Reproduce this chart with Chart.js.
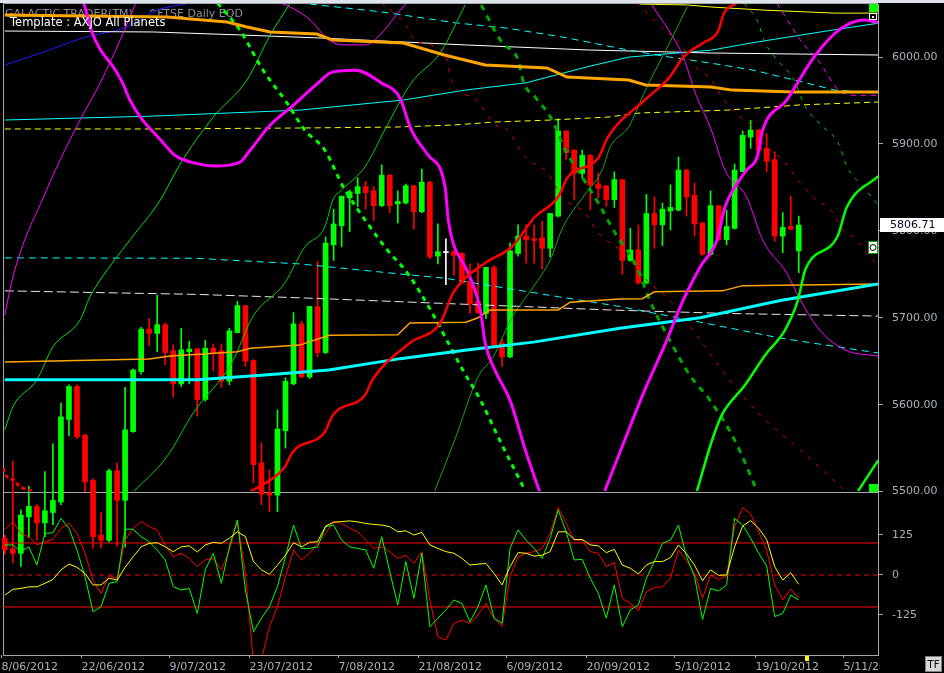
<!DOCTYPE html>
<html>
<head>
<meta charset="utf-8">
<title>^FTSE Daily EOD - AXJO All Planets</title>
<script src="https://cdn.jsdelivr.net/npm/chart.js@4.4.1/dist/chart.umd.min.js"></script>
<style>
  html, body { margin: 0; padding: 0; background: #000; overflow: hidden; }
  canvas { display: block; }
</style>
</head>
<body>
<canvas id="chart" width="944" height="673"></canvas>
<script>
// Daily FTSE candles, index 0 = 8/06/2012 (trading days only)
const opens = [5446, 5434, 5429, 5471, 5483, 5464, 5476, 5488, 5583, 5621,
  5565, 5513, 5450, 5444, 5524, 5490, 5569, 5638, 5687, 5682,
  5692, 5662, 5624, 5661, 5664, 5606, 5665, 5662, 5627, 5683,
  5714, 5651, 5533, 5499, 5496, 5570, 5624, 5693, 5632, 5713,
  5660, 5784, 5806, 5838, 5843, 5851, 5846, 5829, 5864, 5831,
  5832, 5852, 5822, 5856, 5771, 5775, 5776, 5774, 5742, 5719,
  5705, 5758, 5671, 5655, 5774, 5794, 5791, 5792, 5780, 5817,
  5915, 5893, 5866, 5887, 5854, 5852, 5836, 5859, 5766, 5778,
  5740, 5820, 5807, 5823, 5824, 5870, 5841, 5809, 5773, 5829,
  5790, 5803, 5868, 5908, 5916, 5895, 5882, 5794, 5805, 5777];
const highs = [5450, 5535, 5479, 5506, 5485, 5523, 5555, 5602, 5623, 5623,
  5566, 5515, 5476, 5526, 5533, 5620, 5641, 5689, 5699, 5726,
  5694, 5669, 5688, 5673, 5665, 5674, 5670, 5670, 5688, 5719,
  5714, 5652, 5556, 5525, 5594, 5631, 5706, 5696, 5713, 5765,
  5793, 5825, 5840, 5847, 5861, 5857, 5851, 5876, 5865, 5846,
  5854, 5852, 5871, 5857, 5808, 5791, 5778, 5775, 5762, 5763,
  5758, 5760, 5676, 5786, 5807, 5807, 5807, 5811, 5820, 5929,
  5915, 5893, 5893, 5888, 5867, 5852, 5868, 5859, 5803, 5807,
  5842, 5839, 5832, 5853, 5885, 5871, 5855, 5810, 5846, 5829,
  5824, 5877, 5915, 5927, 5917, 5912, 5891, 5821, 5840, 5817];
const lows = [5428, 5418, 5414, 5447, 5444, 5448, 5462, 5485, 5564, 5561,
  5500, 5435, 5435, 5442, 5437, 5436, 5568, 5635, 5668, 5661,
  5646, 5609, 5621, 5624, 5587, 5604, 5639, 5620, 5623, 5683,
  5644, 5510, 5485, 5477, 5477, 5550, 5623, 5631, 5630, 5655,
  5659, 5766, 5782, 5799, 5828, 5825, 5812, 5828, 5821, 5809,
  5831, 5802, 5821, 5768, 5762, 5738, 5749, 5739, 5705, 5705,
  5699, 5665, 5644, 5654, 5771, 5763, 5763, 5756, 5770, 5816,
  5882, 5836, 5861, 5824, 5838, 5828, 5827, 5750, 5765, 5739,
  5739, 5780, 5783, 5801, 5823, 5817, 5794, 5772, 5772, 5789,
  5784, 5802, 5868, 5895, 5887, 5868, 5788, 5775, 5801, 5752];
const closes = [5433, 5429, 5473, 5483, 5464, 5478, 5490, 5586, 5621, 5563,
  5511, 5448, 5444, 5524, 5490, 5571, 5640, 5687, 5682, 5692,
  5660, 5624, 5663, 5664, 5606, 5665, 5659, 5627, 5685, 5714,
  5650, 5531, 5497, 5496, 5572, 5627, 5693, 5632, 5713, 5660,
  5786, 5808, 5840, 5845, 5851, 5844, 5829, 5864, 5829, 5834,
  5852, 5822, 5856, 5770, 5776, 5775, 5772, 5740, 5716, 5706,
  5758, 5669, 5655, 5777, 5794, 5790, 5789, 5780, 5820, 5915,
  5890, 5866, 5887, 5853, 5849, 5836, 5859, 5766, 5778, 5740,
  5820, 5807, 5825, 5827, 5870, 5839, 5808, 5773, 5829, 5790,
  5805, 5870, 5910, 5916, 5893, 5880, 5794, 5804, 5802, 5806.71];
const lastPrice = 5806.71;

// oscillator panel, one value per candle
const oscRed = [142, 167, 130, 119, 94, 104, 111, 146, 161, 130,
  68, -16, -57, -2, -10, 109, 146, 167, 151, 140,
  94, 57, 68, 52, 26, 47, 52, 16, 78, 167,
  5, -270, -265, -162, -99, -5, 78, 47, 68, 99,
  130, 167, 161, 146, 135, 109, 83, 88, 73, 52,
  62, 36, 73, -78, -193, -203, -151, -141, -151, -125,
  -89, -135, -161, -5, 57, 68, 73, 83, 130, 211,
  161, 109, 109, 73, 68, 26, 39, -73, -89, -112,
  -52, -39, -37, -10, 78, 45, 5, -73, 0, -14,
  -3, 151, 211, 191, 135, 78, -31, -78, -44, -73];
const oscGreen = [94, 94, 73, 88, 31, 130, 132, 177, 146, 78,
  -5, -115, -99, -26, -21, 143, 143, 120, 104, 78,
  47, -36, -47, -42, -120, 16, 68, -26, 88, 172,
  -47, -177, -135, -99, -36, 57, 156, 83, 83, 88,
  151, 156, 109, 88, 83, 78, 21, 120, 10, -94,
  42, -73, 68, -162, -135, -109, -78, -89, -146, -99,
  -31, -135, -151, 83, 141, 109, 83, 52, 115, 203,
  135, 47, 49, -10, -57, -135, -31, -162, -109, -94,
  -10, 42, 99, 109, 156, 57, -5, -139, -42, -50,
  -31, 177, 156, 115, 68, 28, -130, -120, -63, -78];
const oscYellow = [-63, -45, -42, -37, -37, -26, -14, 16, 34, 24,
  5, -31, -31, -10, -16, 24, 57, 88, 99, 101,
  88, 73, 88, 91, 72, 94, 102, 99, 115, 135,
  120, 42, 16, 2, 31, 62, 101, 88, 102, 104,
  153, 165, 167, 169, 166, 161, 158, 156, 151, 135,
  138, 125, 133, 94, 83, 73, 68, 52, 31, 34,
  36, 5, -31, 26, 70, 68, 59, 62, 73, 135,
  135, 111, 111, 94, 91, 70, 80, 31, 21, 3,
  31, 42, 42, 54, 94, 66, 31, -18, 16, -1,
  0, 88, 153, 170, 146, 111, 26, -16, 7, -29];
const oscLevels = [100, 0, -100];

// planetary lines, [trading-day index, price]
const cyanThick = [[0, 5628.6], [24, 5628.6], [32, 5634], [40.4, 5640], [49.3, 5653], [57.6, 5663], [65.9, 5672], [76.7, 5688], [86.7, 5700], [96.7, 5720], [108.9, 5739]];
const orangeThin = [[0, 5649], [18, 5652.6], [20.6, 5656], [24.3, 5658], [29, 5661], [30.6, 5665], [36.8, 5668.6], [38.5, 5674], [40.5, 5680], [49, 5680.5], [50.5, 5694], [57.5, 5695], [59, 5700], [60.5, 5709], [69, 5709], [70.5, 5718], [76.7, 5721.6], [79.5, 5722], [81, 5730], [89.5, 5731], [92, 5737], [108.9, 5739]];
const whiteDashed = [[0, 5731], [23.7, 5727], [36.8, 5723], [49.3, 5718.5], [75.5, 5709], [90, 5705], [108.9, 5702]];
const cyanDashedLow = [[0, 5769], [23.7, 5768.5], [36.8, 5762], [49.3, 5750.4], [54.9, 5745.5], [69.2, 5724], [76.7, 5713], [86.7, 5695], [96.7, 5676.6], [108.9, 5659.5]];
const magentaThickA = [[9.75, 6065.7], [10.9, 6028], [11.9, 6008.7], [13.5, 5989], [14.7, 5970], [15.6, 5950.6], [16.9, 5931], [19.4, 5905], [21.2, 5887], [23.7, 5878], [26.2, 5874.7], [29.3, 5879], [30.6, 5893], [33.1, 5921.8], [35.6, 5941.5], [38.8, 5968], [40.9, 5983], [43.7, 5985], [47.0, 5970], [49.2, 5954], [50.7, 5916], [52.8, 5887], [54.9, 5850.6], [55.3, 5812.6], [55.9, 5786], [57.4, 5758.6], [58.3, 5740], [59.3, 5709], [59.9, 5671], [61.1, 5640], [63.0, 5605], [64.9, 5548], [66.7, 5499.5]];
const magentaThickB = [[74.8, 5500.7], [77.3, 5559.4], [79.8, 5617], [82.3, 5668.8], [84.6, 5720.5], [86.7, 5758.5], [88.8, 5789.5], [89.8, 5827.5], [90.8, 5847], [92.5, 5870], [93.8, 5885], [94.5, 5916], [97.5, 5950.6], [100.9, 6000], [104.0, 6031], [107.1, 6042.6], [108.9, 6040]];
const magentaThinA = [[0, 5703], [0.9, 5743], [2.5, 5790], [4.4, 5830], [6.9, 5881.8], [9.4, 5927.8], [11.9, 5970.4], [14.4, 6020], [16.5, 6065.7]];
const magentaThinB = [[33.1, 6065.7], [35.6, 6057.6], [38.1, 6042.6], [40.4, 6019.6], [42.4, 6014], [45.0, 6014], [47.0, 6027.7], [49.3, 6054], [50.5, 6065.7]];
const magentaThinC = [[80.7, 6060], [84.6, 6000], [86.1, 5958.6], [88.1, 5916], [89.8, 5870], [92.5, 5839], [94.5, 5789.5], [97.5, 5751.5], [99.2, 5720.5], [101.6, 5686], [104.8, 5663], [108.9, 5656]];
const magentaDashed = [[96.3, 6062], [99.2, 6019.6], [101.4, 5996.5], [104.0, 5962], [106.0, 5956], [108.9, 5956]];
const greenThinA = [[0, 5571], [1.0, 5597.5], [4.0, 5628.6], [6.0, 5666.5], [9.4, 5697.6], [10.6, 5724], [11.9, 5743.6], [15.6, 5789.6], [19.4, 5835.6], [21.8, 5876], [26.0, 5931], [30.2, 5973.7], [33.1, 6025.5], [35.6, 6062.3]];
const greenThinB = [[16.0, 5499.5], [20.2, 5540], [23.5, 5590.6], [28.3, 5648], [30.9, 5701], [34.9, 5740], [37.4, 5781.5], [39.9, 5804.5], [40.9, 5835.6], [42.0, 5847], [44.9, 5873.6], [47.5, 5918.4], [50.7, 5970.4], [54.3, 6005], [57.4, 6060]];
const greenThinC = [[53.6, 5500.7], [56.1, 5559.4], [59.0, 5632], [60.9, 5655], [63.2, 5699.8], [65.9, 5735.5], [68.0, 5766.6], [69.6, 5804.6], [72.3, 5841.5], [74.5, 5870.3], [75.5, 5896.8], [77.8, 5919.8], [79.9, 5962.4], [82.9, 6016.6], [85.1, 6058]];
const greenThick = [[86.3, 5500.7], [88.2, 5559.4], [89.4, 5588], [92.3, 5622.6], [94.8, 5657], [97.3, 5686], [98.9, 5720.5], [99.8, 5755], [103.8, 5793], [105.0, 5827.5], [108.9, 5863]];
const greenStub = [[106.4, 5500.7], [108.9, 5536]];
const greenDashedA = [[26.5, 6062.3], [29.3, 6031.2], [32.2, 5985], [35.2, 5947], [37.4, 5916], [39.9, 5893], [42.2, 5850.6], [45.2, 5809], [47.7, 5778], [50.2, 5751.5], [53.3, 5705.5], [55.3, 5671], [57.1, 5640], [59.3, 5605.5], [61.7, 5559.4], [64.9, 5500.7]];
const greenDashedB = [[59.4, 6060], [62.0, 6016.6], [64.0, 5997], [64.7, 5970.4], [66.1, 5954.3], [68.1, 5930], [69.9, 5893], [72.0, 5862], [74.0, 5832], [76.1, 5797.6], [78.8, 5758.5], [80.4, 5720.5], [82.9, 5674.4], [85.4, 5634], [87.9, 5605.5], [91.0, 5559.4], [93.8, 5500.7]];
const greenDashedC = [[92.2, 6062], [93.8, 6042.6], [94.8, 6016.6], [96.3, 5997], [98.4, 5974], [99.8, 5943], [102.0, 5920], [103.9, 5901.6], [105.0, 5874], [107.0, 5851], [108.9, 5830]];
const redThick = [[30.6, 5499.5], [34.9, 5528.3], [35.9, 5545.6], [39.9, 5568.6], [40.9, 5588], [44.9, 5611], [45.9, 5629.6], [50.5, 5671], [54.3, 5694], [55.9, 5728.6], [59.9, 5763], [63.2, 5781.5], [66.1, 5816], [69.0, 5839], [70.2, 5862], [74.0, 5884], [75.2, 5908], [79.8, 5950.6], [82.9, 5977], [84.6, 6000], [87.1, 6016.6], [88.9, 6029], [89.7, 6051], [91.2, 6062]];
const redDashedA = [[47.0, 6062.3], [50.2, 6034.6], [51.1, 6019.6], [54.8, 6004.6], [55.8, 5970.4], [58.9, 5950.6], [60.9, 5924], [62.7, 5916], [64.9, 5885], [67.7, 5866.6], [69.5, 5839], [72.3, 5820.6], [74.0, 5797.6], [77.1, 5774.6], [80.4, 5740], [82.9, 5720.5], [86.7, 5674.4], [90.4, 5628.4], [94.2, 5588], [99.2, 5548], [104.8, 5500.7]];
const redDashedB = [[78.8, 6062.3], [81.9, 6034.6], [84.1, 6016.6], [86.1, 5989], [88.1, 5974], [89.7, 5950.6], [91.7, 5931], [93.3, 5919.5], [94.5, 5901], [97.0, 5881.6], [99.2, 5855], [100.8, 5839], [103.3, 5820.6], [104.5, 5801], [105.8, 5793], [107.9, 5770], [108.9, 5760.7]];
const redDotted = [[-0.2, 5527], [0.1, 5519], [1.3, 5512], [1.7, 5507], [2.5, 5503], [3.5, 5500]];
const yellowDashed = [[0, 5917.3], [18.1, 5917.3], [36.8, 5918.4], [48.7, 5919.5], [55.8, 5921.8], [61.1, 5925.3], [68.2, 5927.6], [75.2, 5931], [79.2, 5935.7], [90.1, 5939], [99.2, 5945], [108.9, 5948.3]];
const yellowSolid = [[79.2, 6061], [85.1, 6060], [88.1, 6057.6], [94.8, 6054], [103.5, 6050.6], [108.9, 6050.6]];
const cyanThin = [[0, 5927.6], [18.1, 5932], [36.8, 5939], [49.7, 5950.6], [57.4, 5962], [65.0, 5970.4], [72.7, 5989], [77.8, 6000], [88.1, 6008], [93.3, 6016.6], [103.5, 6031.5], [108.9, 6039]];
const cyanDashedHigh = [[30.6, 6065.7], [36.8, 6062.3], [47.0, 6052], [56.3, 6039.3], [62.5, 6033.5], [69.6, 6023], [77.8, 6008], [82.9, 6000], [88.1, 5993], [93.3, 5985], [98.4, 5973.7], [103.5, 5962], [108.9, 5958.6]];
const orangeThick = [[0, 6048.4], [20.2, 6046], [27.7, 6040.4], [30.2, 6034.6], [33.1, 6028.8], [38.9, 6026.5], [40.9, 6019.6], [49.7, 6016.2], [54.8, 6002.4], [59.9, 5990.9], [67.6, 5987.5], [70.1, 5977], [77.8, 5973.7], [79.9, 5968], [88.1, 5965.6], [90.7, 5962], [98.4, 5959.8], [108.9, 5959.8]];
const whiteSolid = [[0, 6030], [18.5, 6028.9], [29.3, 6025.5], [39.3, 6022], [57.4, 6014], [72.7, 6008.2], [88.1, 6004.7], [108.9, 6002.4]];
const blueThin = [[0, 5990.9], [4.8, 6005.8], [9.75, 6022], [15.2, 6034.6], [19.0, 6054], [23.1, 6062]];

// axes
const priceTicks = [5500, 5600, 5700, 5800, 5900, 6000];
const oscTicks = [-125, 0, 125];
const xTickDays = [0, 10, 21, 31, 42, 52, 63, 73, 84, 94, 105];
const xTickLabels = ['8/06/2012', '22/06/2012', '9/07/2012', '23/07/2012', '7/08/2012', '21/08/2012',
  '6/09/2012', '20/09/2012', '5/10/2012', '19/10/2012', '5/11/2012'];
const todayIndex = 100;

const upColor = '#00ff00';
const downColor = '#ff0000';
const dojiColor = '#ffffff';
const axisTextColor = '#a9b1b9';
const frameColor = '#a8a8a8';
const axisFont = '11px "DejaVu Sans"';

const candleColors = closes.map((c, i) => c > opens[i] ? upColor : (c < opens[i] ? downColor : dojiColor));

function planetLine(points, color, width, dash, smooth) {
  return {
    type: 'line',
    data: points.map(p => ({ x: p[0], y: p[1] })),
    parsing: false,
    borderColor: color,
    borderWidth: width,
    borderDash: dash || [],
    pointRadius: 0,
    cubicInterpolationMode: smooth === false ? 'default' : 'monotone',
    tension: 0,
    yAxisID: 'y',
    panel: true,
    order: 2,
  };
}

function oscLine(values, color) {
  return {
    type: 'line',
    data: values.map((v, i) => ({ x: i, y: v })),
    parsing: false,
    borderColor: color,
    borderWidth: 1,
    pointRadius: 0,
    tension: 0,
    yAxisID: 'osc',
    panel: true,
    order: 1,
  };
}

const levelLines = oscLevels.map(v => ({
  type: 'line',
  data: [{ x: -0.6, y: v }, { x: 108.9, y: v }],
  parsing: false,
  borderColor: '#ff0000',
  borderWidth: 1,
  borderDash: v === 0 ? [5, 4] : [],
  pointRadius: 0,
  yAxisID: 'osc',
  panel: true,
  order: 3,
}));

const datasets = [
  oscLine(oscYellow, '#ffff00'),
  oscLine(oscGreen, '#00ff00'),
  oscLine(oscRed, '#ff0000'),
  ...levelLines,
  planetLine(redThick, '#ff0000', 2.5),
  planetLine(magentaThickA, '#ff00ff', 3),
  planetLine(magentaThickB, '#ff00ff', 3),
  planetLine(greenThick, '#00ff00', 2.5),
  planetLine(greenStub, '#00ff00', 2.5),
  planetLine(cyanThick, '#00ffff', 3, null, false),
  planetLine(orangeThick, '#ffa500', 3, null, false),
  planetLine(orangeThin, '#ffa500', 1.5, null, false),
  planetLine(greenDashedA, '#00ff00', 3, [5, 5]),
  planetLine(greenDashedB, '#00a800', 3, [6, 6]),
  planetLine(greenDashedC, '#00c800', 1, [4, 6]),
  planetLine(greenThinA, '#00e000', 1),
  planetLine(greenThinB, '#00d000', 1),
  planetLine(greenThinC, '#1aa51a', 1),
  planetLine(magentaThinA, '#ff00ff', 1),
  planetLine(magentaThinB, '#ff00ff', 1),
  planetLine(magentaThinC, '#ff00ff', 1),
  planetLine(magentaDashed, '#ff00ff', 1, [5, 5]),
  planetLine(redDashedA, '#e00000', 1, [4, 7]),
  planetLine(redDashedB, '#e00000', 1, [4, 7]),
  planetLine(redDotted, '#ff0000', 3, [4, 3]),
  planetLine(whiteDashed, '#e8e8e8', 1, [9, 4], false),
  planetLine(cyanDashedLow, '#00ffff', 1, [7, 5], false),
  planetLine(cyanDashedHigh, '#00ffff', 1, [7, 5], false),
  planetLine(yellowDashed, '#ffff00', 1, [6, 4], false),
  planetLine(yellowSolid, '#ffff00', 1, null, false),
  planetLine(cyanThin, '#00ffff', 1, null, false),
  planetLine(whiteSolid, '#ffffff', 1, null, false),
  planetLine(blueThin, '#1a1aff', 1),
  {
    type: 'bar',
    data: opens.map((o, i) => ({ x: i, y: [o, closes[i]] })),
    backgroundColor: candleColors,
    barThickness: 5,
    minBarLength: 1,
    grouped: false,
    clip: false,
    yAxisID: 'y',
    order: 10,
  },
  {
    type: 'bar',
    data: lows.map((l, i) => ({ x: i, y: [l, highs[i]] })),
    backgroundColor: candleColors,
    barThickness: 1,
    grouped: false,
    clip: false,
    yAxisID: 'y',
    order: 11,
  },
];

// keep each line inside its own panel
const panelClip = {
  id: 'panelClip',
  beforeDatasetDraw(chart, args) {
    const ds = chart.data.datasets[args.index];
    if (!ds.panel) return;
    const s = chart.scales[ds.yAxisID];
    const a = chart.chartArea;
    const ctx = chart.ctx;
    ctx.save();
    ctx.beginPath();
    ctx.rect(a.left + 3, s.top, a.right - a.left - 3, s.bottom - s.top);
    ctx.clip();
  },
  afterDatasetDraw(chart, args) {
    if (chart.data.datasets[args.index].panel) chart.ctx.restore();
  },
};

const decorations = {
  id: 'decorations',
  beforeDraw(chart) {
    const { ctx, width, height } = chart;
    ctx.save();
    ctx.fillStyle = '#000';
    ctx.fillRect(0, 0, width, height);
    ctx.fillStyle = '#dde3ea';
    ctx.fillRect(0, 0, width, 3);
    ctx.restore();
  },
  beforeDatasetsDraw(chart) {
    const { ctx, chartArea: a, scales } = chart;
    ctx.save();
    ctx.strokeStyle = frameColor;
    ctx.lineWidth = 1;
    ctx.beginPath();
    ctx.moveTo(a.left + 3.5, a.top - 0.5);
    ctx.lineTo(a.right, a.top - 0.5);
    ctx.moveTo(a.left + 3.5, a.top - 0.5);
    ctx.lineTo(a.left + 3.5, a.bottom + 0.5);
    ctx.lineTo(a.right, a.bottom + 0.5);
    const divY = Math.round(scales.y.bottom) + 0.5;
    ctx.moveTo(a.left + 3.5, divY);
    ctx.lineTo(a.right, divY);
    ctx.stroke();

    ctx.font = axisFont;
    ctx.fillStyle = '#8a9098';
    ctx.textBaseline = 'alphabetic';
    ctx.fillText('GALACTIC TRADER(TM)', a.left + 5, a.top + 13);
    ctx.fillText('^FTSE Daily EOD', a.left + 148, a.top + 13);
    ctx.restore();
  },
  afterDatasetsDraw(chart) {
    const { ctx, chartArea: a } = chart;
    ctx.save();
    ctx.font = '11.5px "DejaVu Sans"';
    ctx.fillStyle = '#ffffff';
    ctx.fillText('Template : AXJO All Planets', a.left + 10, a.top + 22);
    ctx.restore();
  },
  afterDraw(chart) {
    const { ctx, chartArea: a, scales } = chart;
    const x = scales.x;
    const y = scales.y;
    ctx.save();

    // date labels along the bottom, cut at the plot edge
    ctx.save();
    ctx.beginPath();
    ctx.rect(0, a.bottom, a.right + 2, chart.height - a.bottom);
    ctx.clip();
    ctx.strokeStyle = frameColor;
    ctx.fillStyle = axisTextColor;
    ctx.font = axisFont;
    ctx.textAlign = 'left';
    ctx.textBaseline = 'alphabetic';
    xTickDays.forEach((d, k) => {
      const px = Math.round(x.getPixelForValue(d - 0.5)) + 0.5;
      ctx.beginPath();
      ctx.moveTo(px, a.bottom);
      ctx.lineTo(px, a.bottom + 3);
      ctx.stroke();
      ctx.fillText(xTickLabels[k], px, a.bottom + 14.5);
    });
    ctx.fillStyle = '#ffff00';
    ctx.fillRect(Math.round(x.getPixelForValue(todayIndex)) - 2, a.bottom + 1, 4, 5);
    ctx.restore();

    // last price flag
    const py = y.getPixelForValue(lastPrice);
    ctx.fillStyle = '#ffffff';
    ctx.fillRect(a.right + 2, Math.round(py - 7), chart.width - a.right - 2, 14);
    ctx.fillStyle = '#000020';
    ctx.font = axisFont;
    ctx.textBaseline = 'middle';
    ctx.fillText(lastPrice.toFixed(2), a.right + 12, py + 0.5);

    // panel icons
    ctx.fillStyle = '#00ff00';
    ctx.fillRect(a.right - 9, a.top, 9, 8);
    ctx.fillRect(a.right - 9, Math.round(y.bottom) - 8, 9, 8);
    ctx.strokeStyle = '#ffffff';
    ctx.strokeRect(a.right - 8.5, a.top + 9.5, 7, 6);
    ctx.fillStyle = '#ffffff';
    ctx.fillRect(a.right - 6, a.top + 12, 2, 2);
    const iy = Math.round(y.getPixelForValue(5781));
    ctx.fillStyle = '#ffffff';
    ctx.fillRect(a.right - 10, iy - 6, 10, 13);
    ctx.strokeStyle = '#00a000';
    ctx.strokeRect(a.right - 9.5, iy - 5.5, 9, 12);
    ctx.strokeStyle = '#000000';
    ctx.beginPath();
    ctx.arc(a.right - 5, iy + 0.5, 3, 0, Math.PI * 2);
    ctx.stroke();

    // TF button
    ctx.fillStyle = '#d8d8d8';
    ctx.fillRect(chart.width - 19, a.bottom + 1, 17, 16);
    ctx.strokeStyle = '#808080';
    ctx.strokeRect(chart.width - 18.5, a.bottom + 1.5, 16, 15);
    ctx.fillStyle = '#000000';
    ctx.font = '10px "DejaVu Sans"';
    ctx.textAlign = 'center';
    ctx.textBaseline = 'alphabetic';
    ctx.fillText('TF', chart.width - 10.5, a.bottom + 13);
    ctx.restore();
  },
};

function rightAxis(ticks, fmt) {
  return {
    type: 'linear',
    position: 'right',
    stack: 'panels',
    offset: false,
    afterBuildTicks(scale) { scale.ticks = ticks.map(v => ({ value: v })); },
    afterFit(scale) { scale.width = 66; scale.paddingTop = 0; scale.paddingBottom = 0; },
    grid: { drawOnChartArea: false, drawTicks: true, tickLength: 5, color: frameColor },
    border: { display: true, color: frameColor },
    ticks: {
      color: axisTextColor,
      font: { family: 'DejaVu Sans', size: 11 },
      padding: 9,
      autoSkip: false,
      callback: fmt,
    },
  };
}

const priceAxis = rightAxis(priceTicks, v => Number(v).toFixed(2));
priceAxis.min = 5500;
priceAxis.max = 6061.1;
priceAxis.stackWeight = 487.6;
const oscAxis = rightAxis(oscTicks, v => String(v));
oscAxis.min = -250;
oscAxis.max = 260.6;
oscAxis.stackWeight = 163.4;

new Chart(document.getElementById('chart'), {
  type: 'bar',
  data: { datasets },
  options: {
    responsive: false,
    animation: false,
    devicePixelRatio: 1,
    events: [],
    layout: { padding: { top: 4, bottom: 18, left: 0, right: 0 } },
    plugins: { legend: { display: false }, tooltip: { enabled: false } },
    scales: {
      x: { type: 'linear', min: -0.6, max: 108.88, offset: false, display: false },
      y: priceAxis,
      osc: oscAxis,
    },
  },
  plugins: [panelClip, decorations],
});
</script>
</body>
</html>
